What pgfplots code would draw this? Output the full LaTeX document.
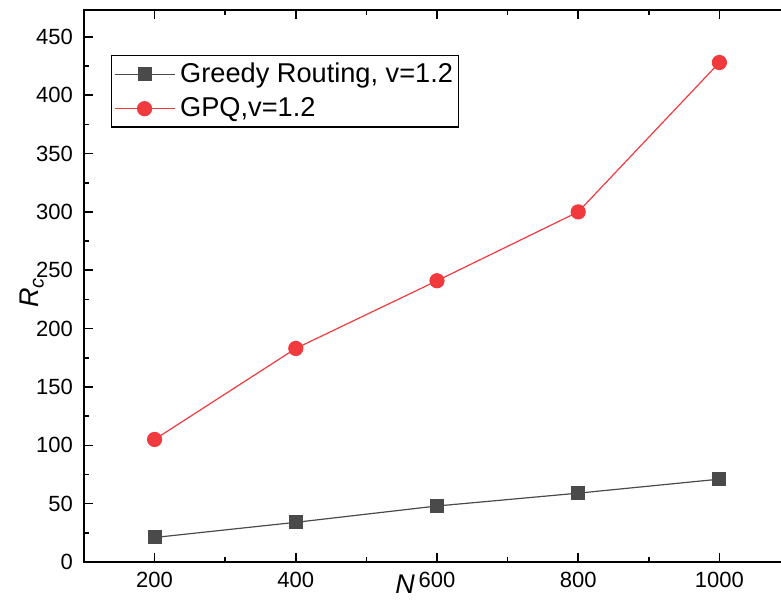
\documentclass[border=0pt]{standalone}
\usepackage{fontspec}
\setmainfont{Liberation Sans}
\usepackage{pgfplots}
\pgfplotsset{compat=1.18}
\definecolor{grayc}{RGB}{74,74,74}
\definecolor{redc}{RGB}{240,58,62}
\begin{document}
\begin{tikzpicture}
\begin{axis}[
 name=ax, scale only axis, width=353pt, height=276pt,
 xmin=100, xmax=1100, ymin=0, ymax=473,
 xtick={200,400,600,800,1000}, ytick={0,50,...,450},
 minor x tick num=1, minor y tick num=1,
 major tick length=4.5pt, minor tick length=2.5pt,
 tick align=inside, tick pos=both,
 axis line style={line width=0.9pt},
 every tick/.style={line width=0.8pt,black},
 /pgf/number format/assume math mode=true,
 /pgf/number format/1000 sep={},
 ticklabel style={font=\fontsize{11}{13}\selectfont},
 xticklabel style={yshift=-1.5pt},
 yticklabel style={xshift=-2pt},
 xlabel={\textit{N}}, ylabel={\textit{R}\raisebox{-0.35ex}{\fontsize{10}{12}\selectfont\textit{c}}},
 label style={font=\fontsize{13.5}{16}\selectfont},
 xlabel style={at={(axis description cs:0.455,-0.04)},anchor=center},
 ylabel style={at={(axis description cs:-0.0737,0.487)},anchor=center},
 legend style={at={(axis description cs:0.0382,0.9185)}, anchor=north west,
   font=\fontsize{13.6}{16}\selectfont, draw=black, line width=0.6pt,
   inner xsep=1.2pt, inner ysep=2.2pt, row sep=3pt,
   nodes={inner sep=1.5pt, anchor=west}},
 legend cell align=left,
 legend image code/.code={\draw[mark repeat=2,mark phase=2,#1] plot coordinates {(0pt,0pt) (15pt,0pt) (30pt,0pt)};},
]
\addplot[color=grayc, line width=0.6pt, mark=square*, mark size=3.2pt, mark options={solid, fill=grayc, draw=grayc}]
 coordinates {(200,21)(400,34)(600,48)(800,59)(1000,71)};
\addlegendentry{\hspace{1pt}Greedy Routing, v=1.2}
\addplot[color=redc, line width=0.6pt, mark=*, mark size=3.5pt, mark options={solid, fill=redc, draw=redc}]
 coordinates {(200,105)(400,183)(600,241)(800,300)(1000,428)};
\addlegendentry{\hspace{1pt}GPQ,v=1.2}
\end{axis}
\pgfresetboundingbox
\path[use as bounding box] ([shift={(-42pt,-19.5pt)}]ax.south west) rectangle ([shift={(348.5pt,281pt)}]ax.south west);
\end{tikzpicture}
\end{document}
